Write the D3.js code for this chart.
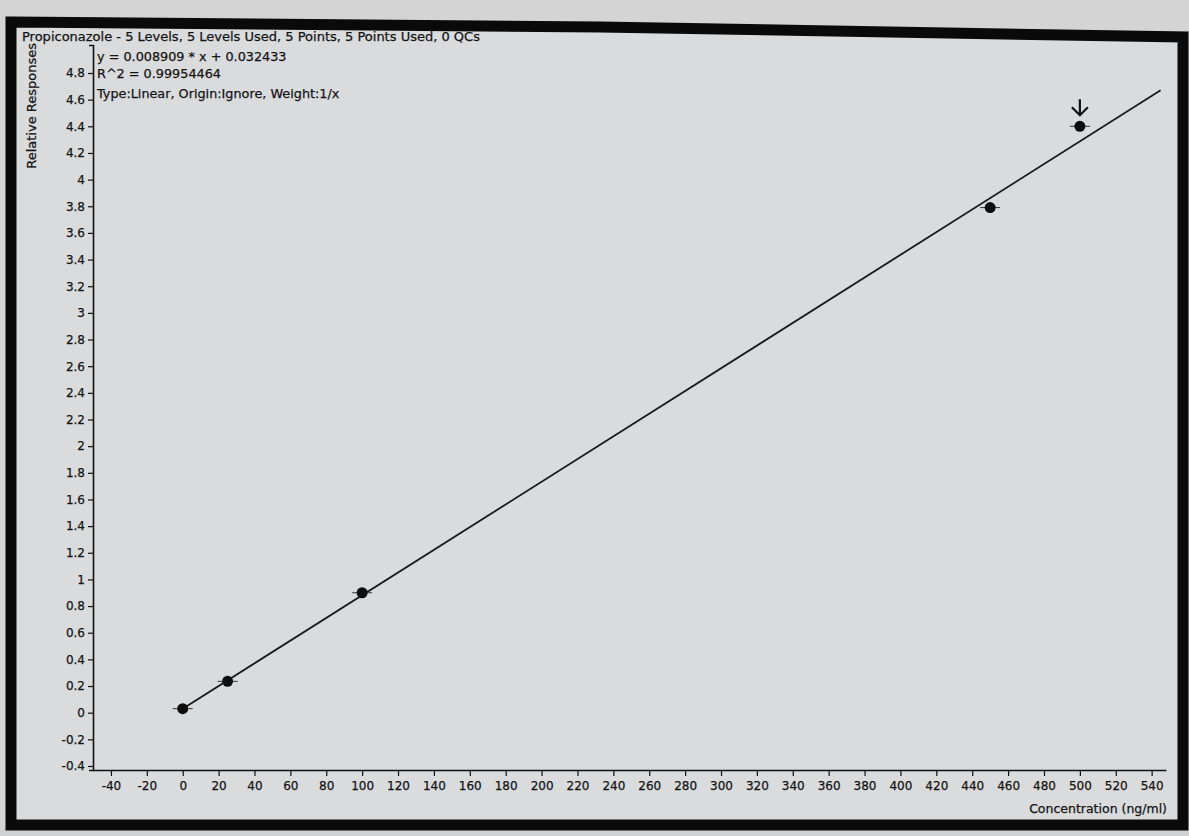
<!DOCTYPE html>
<html>
<head>
<meta charset="utf-8">
<script src="https://cdn.jsdelivr.net/npm/d3@7/dist/d3.min.js"></script>
<style>
  html, body { margin: 0; padding: 0; background: #d6d6d7; }
  svg { display: block; }
  text { font-family: "DejaVu Sans", Verdana, sans-serif; fill: #141414; stroke: #141414; stroke-width: 0.25px; }
</style>
</head>
<body>
<svg id="chart" width="1189" height="836"></svg>
<script>
// ---- data ----
const titleText = "Propiconazole - 5 Levels, 5 Levels Used, 5 Points, 5 Points Used, 0 QCs";
const infoLines = ["y = 0.008909 * x  + 0.032433", "R^2 = 0.99954464", "Type:Linear, Origin:Ignore, Weight:1/x"];
const concentrations = [0, 25, 100, 450, 500];
const responses = [0.03, 0.235, 0.90, 3.79, 4.40];
const fitX = [0, 545];
const fitY = [0.03, 4.67];
const xTicks = d3.range(-40, 541, 20);
const yTicks = d3.range(-0.4, 4.81, 0.2).map(v => +v.toFixed(1));
const xLabel = "Concentration (ng/ml)";
const yLabel = "Relative Responses";
const flaggedIndex = 4;

const FONT = "'DejaVu Sans', Verdana, sans-serif";
const svg = d3.select("#chart");

// backgrounds
svg.append("rect").attr("x", 0).attr("y", 0).attr("width", 1189).attr("height", 836).attr("fill", "#d4d4d5");
svg.append("rect").attr("x", 0).attr("y", 829).attr("width", 1189).attr("height", 7).attr("fill", "#cfd0d2");
// frame (slightly tilted as in the photo)
svg.append("path")
  .attr("d", "M11,22 L600,27 L1183,37 L1183,825 L11,825 Z")
  .attr("fill", "#dadbdd").attr("stroke", "#0a0a0a").attr("stroke-width", 11).attr("stroke-linejoin", "miter");

const x = d3.scaleLinear().domain([-50, 548]).range([93, 1166]);
const y = d3.scaleLinear().domain([-0.43, 5.01]).range([770, 45]);

// axes
const xAxis = d3.axisBottom(x).tickValues(xTicks).tickSize(6).tickSizeOuter(0).tickFormat(d => d);
const gx = svg.append("g").attr("transform", `translate(0,${y.range()[0]})`).call(xAxis);
gx.select(".domain").attr("stroke", "#111").attr("stroke-width", 1.6);
gx.selectAll(".tick line").attr("stroke", "#111").attr("stroke-width", 1.2);
gx.selectAll(".tick text").attr("font-size", 12).attr("fill", "#141414").attr("dy", "0.9em")
  .attr("font-family", FONT);

const yAxis = d3.axisLeft(y).tickValues(yTicks).tickSize(5).tickSizeOuter(4)
  .tickFormat(d => String(+d.toFixed(1)));
const gy = svg.append("g").attr("transform", `translate(${x.range()[0]},0)`).call(yAxis);
gy.select(".domain").attr("stroke", "#111").attr("stroke-width", 1.6);
gy.selectAll(".tick line").attr("stroke", "#111").attr("stroke-width", 1.2);
gy.selectAll(".tick text").attr("font-size", 12).attr("fill", "#141414").attr("font-family", FONT);

// axis titles
svg.append("text").attr("x", 1167).attr("y", 813).attr("text-anchor", "end")
  .attr("font-size", 12.5).text(xLabel);
svg.append("text").attr("transform", "translate(36,43) rotate(-90)").attr("text-anchor", "end")
  .attr("font-size", 13).text(yLabel);

// title and info
svg.append("text").attr("x", 22).attr("y", 41).attr("font-size", 13).text(titleText);
svg.selectAll("text.info").data(infoLines).enter().append("text").attr("class", "info")
  .attr("x", 97).attr("y", (d, i) => [61, 78, 98][i]).attr("font-size", 12.8).text(d => d);

// fitted line
const line = d3.line().x(d => x(d[0])).y(d => y(d[1]));
svg.append("path").datum(d3.zip(fitX, fitY)).attr("d", line)
  .attr("fill", "none").attr("stroke", "#1a1a1a").attr("stroke-width", 1.8);

// points with small horizontal marks
const pts = d3.zip(concentrations, responses);
svg.selectAll("line.pm").data(pts).enter().append("line").attr("class", "pm")
  .attr("x1", d => x(d[0]) - 10).attr("x2", d => x(d[0]) + 10)
  .attr("y1", d => y(d[1])).attr("y2", d => y(d[1]))
  .attr("stroke", "#333").attr("stroke-width", 1);
svg.selectAll("circle.pt").data(pts).enter().append("circle").attr("class", "pt")
  .attr("cx", d => x(d[0])).attr("cy", d => y(d[1])).attr("r", 5.5).attr("fill", "#0d0d0d");

// flag arrow above a point
const fp = pts[flaggedIndex];
const ax = x(fp[0]), ay = y(fp[1]);
svg.append("path")
  .attr("d", `M${ax},${ay - 27} L${ax},${ay - 11} M${ax - 8},${ay - 19} L${ax},${ay - 11} L${ax + 8},${ay - 19}`)
  .attr("fill", "none").attr("stroke", "#111").attr("stroke-width", 2.2);
</script>
</body>
</html>
